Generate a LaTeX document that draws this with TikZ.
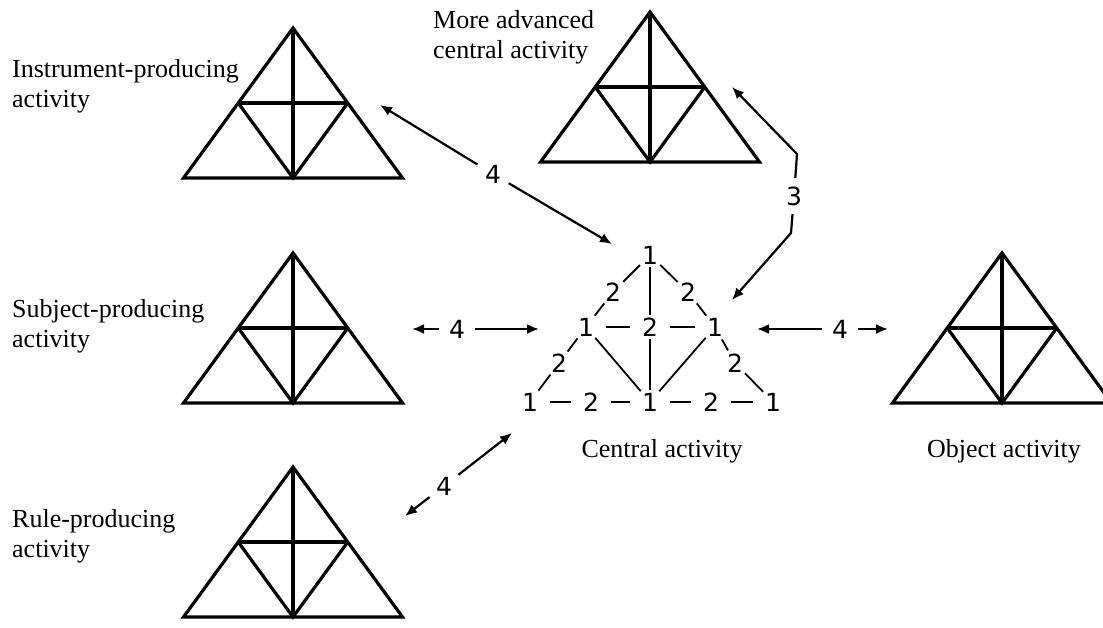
\documentclass[tikz,border=0pt]{standalone}
\usepackage{fontspec}
\setmainfont{Liberation Serif}
\newfontfamily\digitfont{DejaVu Sans}
\usetikzlibrary{arrows.meta}
\begin{document}
\begin{tikzpicture}[x=1pt,y=-1pt,
  tri/.style={line width=3.2pt},
  lbl/.style={font=\fontsize{26}{30}\selectfont, align=left, inner sep=0pt, anchor=base west},
  capt/.style={font=\fontsize{26}{30}\selectfont, inner sep=0pt, anchor=base},
  num/.style={font=\digitfont\fontsize{25}{25}\selectfont, circle, inner sep=0pt, minimum size=22pt},
  lnk/.style={line width=1.8pt},
  hdash/.style={lnk, shorten <=8pt, shorten >=8pt},
  ddash/.style={lnk, shorten <=2pt, shorten >=2pt},
  arr/.style={line width=2.2pt, -{Latex[length=12pt,width=10pt]}},
  albl/.style={font=\digitfont\fontsize{25}{25}\selectfont, circle, inner sep=0pt, minimum size=36pt},
  actri/.pic={
    \draw[tri] (0,0) -- (-109.5,150) -- (109.5,150) -- cycle;
    \draw[tri] (-54.75,75) -- (54.75,75);
    \draw[tri] (0,0) -- (0,150);
    \draw[tri] (-54.75,75) -- (0,150) -- (54.75,75);
  }
]
\clip (0,0) rectangle (1103,627);

% activity triangles
\pic at (293,28) {actri};
\pic at (293,253) {actri};
\pic at (293,467) {actri};
\pic at (650,12) {actri};
\pic at (1002,253) {actri};

% labels (anchor at the baseline of the last line)
\node[lbl] (instr) at (12,107) {Instrument-producing\\activity};
\node[lbl] (adv) at (433,58) {More advanced\\central activity};
\node[lbl] (subj) at (12,347) {Subject-producing\\activity};
\node[lbl] (rule) at (12,557) {Rule-producing\\activity};
\node[capt] (cen) at (662,457) {Central activity};
\node[capt] (obj) at (1004,457) {Object activity};

% central activity numbers
\node[num] (t) at (650,255) {1};
\node[num] (ul) at (613,292) {2};
\node[num] (ur) at (688,292) {2};
\node[num] (ml) at (586,327) {1};
\node[num] (mc) at (650,327) {2};
\node[num] (mr) at (715,327) {1};
\node[num] (ll) at (559,363) {2};
\node[num] (lr) at (735,363) {2};
\node[num] (b1) at (530,402) {1};
\node[num] (b2) at (591,402) {2};
\node[num] (b3) at (650,402) {1};
\node[num] (b4) at (711,402) {2};
\node[num] (b5) at (773,402) {1};

\draw[ddash] (t) -- (ul);
\draw[ddash] (ul) -- (ml);
\draw[ddash] (ml) -- (ll);
\draw[ddash] (ll) -- (b1);
\draw[ddash] (t) -- (ur);
\draw[ddash] (ur) -- (mr);
\draw[ddash] (mr) -- (lr);
\draw[ddash] (lr) -- (b5);
\draw[hdash] (ml) -- (mc);
\draw[hdash] (mc) -- (mr);
\draw[hdash] (b1) -- (b2);
\draw[hdash] (b2) -- (b3);
\draw[hdash] (b3) -- (b4);
\draw[hdash] (b4) -- (b5);
\draw[lnk] (t) -- (mc);
\draw[lnk] (mc) -- (b3);
\draw[ddash] (ml) -- (b3);
\draw[ddash] (mr) -- (b3);

% arrows "4"
\coordinate (iA) at (380,105);
\coordinate (iB) at (612,244);
\node[albl] (i4) at (493,174) {4};
\draw[arr] (i4) -- (iA);
\draw[arr] (i4) -- (iB);

\coordinate (sA) at (412,329);
\coordinate (sB) at (539,329);
\node[albl] (s4) at (457,329) {4};
\draw[arr] (s4) -- (sA);
\draw[arr] (s4) -- (sB);

\coordinate (oA) at (757,329);
\coordinate (oB) at (888,329);
\node[albl] (o4) at (840,329) {4};
\draw[arr] (o4) -- (oA);
\draw[arr] (o4) -- (oB);

\coordinate (rA) at (512,433);
\coordinate (rB) at (405,516);
\node[albl] (r4) at (444,486) {4};
\draw[arr] (r4) -- (rA);
\draw[arr] (r4) -- (rB);

% arrow "3"
\coordinate (c3a) at (797,154);
\coordinate (t3a) at (732,87);
\coordinate (c3b) at (791,233);
\coordinate (t3b) at (732,300);
\node[albl] (n3) at (794,196) {3};
\draw[arr] (n3) -- (c3a) -- (t3a);
\draw[arr] (n3) -- (c3b) -- (t3b);
\end{tikzpicture}
\end{document}
